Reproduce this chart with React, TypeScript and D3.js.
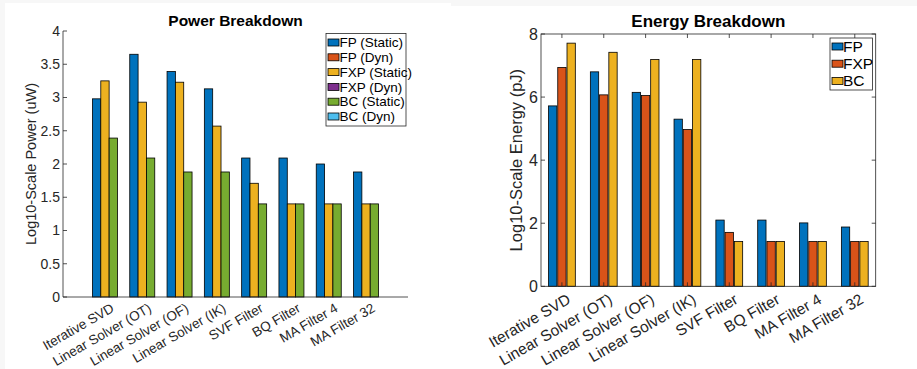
import * as d3 from 'd3'

const FONT = '"Liberation Sans", Arial, Helvetica, sans-serif'
const AXIS = '#262626'

const categories = [
  'Iterative SVD',
  'Linear Solver (OT)',
  'Linear Solver (OF)',
  'Linear Solver (IK)',
  'SVF Filter',
  'BQ Filter',
  'MA Filter 4',
  'MA Filter 32',
]

// Power (log10 uW), static + dynamic stacked per format
const powerFPStatic = [2.98, 3.65, 3.39, 3.13, 2.09, 2.09, 2.0, 1.88]
const powerFPDyn = [0, 0, 0, 0, 0, 0, 0, 0]
const powerFXPStatic = [3.25, 2.93, 3.23, 2.57, 1.71, 1.4, 1.4, 1.4]
const powerFXPDyn = [0, 0, 0, 0, 0, 0, 0, 0]
const powerBCStatic = [2.39, 2.09, 1.88, 1.88, 1.4, 1.4, 1.4, 1.4]
const powerBCDyn = [0, 0, 0, 0, 0, 0, 0, 0]
const powerTicks = [0, 0.5, 1, 1.5, 2, 2.5, 3, 3.5, 4]
const powerLegend = ['FP (Static)', 'FP (Dyn)', 'FXP (Static)', 'FXP (Dyn)', 'BC (Static)', 'BC (Dyn)']

// Energy (log10 pJ)
const energyFP = [5.72, 6.8, 6.15, 5.3, 2.1, 2.1, 2.01, 1.88]
const energyFXP = [6.94, 6.07, 6.05, 4.97, 1.71, 1.42, 1.42, 1.42]
const energyBC = [7.71, 7.42, 7.19, 7.19, 1.42, 1.42, 1.42, 1.42]
const energyTicks = [0, 2, 4, 6, 8]
const energyLegend = ['FP', 'FXP', 'BC']

const COLORS = ['#0072BD', '#D95319', '#EDB120', '#7E2F8E', '#77AC30', '#4DBEEE']

function PowerChart() {
  const left = 63, right = 408, top = 31, bottom = 297
  const x = d3.scalePoint<string>().domain(categories).range([left, right]).padding(1.125)
  const y = d3.scaleLinear().domain([0, 4]).range([bottom, top])
  const inner = d3.scaleBand<number>().domain([0, 1, 2]).range([-12.5, 12.5]).padding(0)
  const stacks = [
    [powerFPStatic, powerFPDyn],
    [powerFXPStatic, powerFXPDyn],
    [powerBCStatic, powerBCDyn],
  ]

  return (
    <g fontFamily={FONT}>
      <text x={(left + right) / 2 + 0} y={26} textAnchor="middle" fontWeight="bold" fontSize={15.5} fill="#000">
        Power Breakdown
      </text>

      {categories.map((c, i) => (
        <g key={c}>
          {stacks.map(([stat, dyn], s) => {
            const bx = (x(c) as number) + (inner(s) as number)
            const w = inner.bandwidth()
            const top1 = y(stat[i])
            const top2 = y(stat[i] + dyn[i])
            return (
              <g key={s}>
                <rect x={bx} y={top1} width={w} height={bottom - top1}
                  fill={COLORS[s * 2]} stroke="#000" strokeWidth={0.8} />
                <rect x={bx} y={top2} width={w} height={top1 - top2}
                  fill={COLORS[s * 2 + 1]} stroke="#000" strokeWidth={0.8} />
              </g>
            )
          })}
        </g>
      ))}

      {/* axes */}
      <line x1={left} x2={left} y1={top} y2={bottom} stroke={AXIS} strokeWidth={0.8} />
      <line x1={left} x2={right} y1={bottom} y2={bottom} stroke={AXIS} strokeWidth={0.8} />
      {powerTicks.map(t => (
        <g key={t}>
          <line x1={left} x2={left + 4} y1={y(t)} y2={y(t)} stroke={AXIS} strokeWidth={0.8} />
          <text x={left - 3} y={y(t)} dy="0.35em" textAnchor="end" fontSize={14} fill={AXIS}>{t}</text>
        </g>
      ))}
      {categories.map(c => (
        <text key={c} transform={`translate(${(x(c) as number) + 5},${bottom + 5}) rotate(-30)`}
          textAnchor="end" dy="0.75em" fontSize={13.5} fill={AXIS}>{c}</text>
      ))}
      <text transform={`translate(36,${(top + bottom) / 2}) rotate(-90)`} textAnchor="middle"
        fontSize={14.5} fill={AXIS}>Log10-Scale Power (uW)</text>

      {/* legend */}
      <rect x={326} y={33.5} width={80} height={92.5} fill="#fff" stroke={AXIS} strokeWidth={0.8} />
      {powerLegend.map((l, k) => (
        <g key={l}>
          <rect x={328} y={39 + k * 14.8} width={11} height={7} fill={COLORS[k]} stroke="#000" strokeWidth={0.8} />
          <text x={339.5} y={42.5 + k * 14.8} dy="0.35em" fontSize={13.5} fill="#000">{l}</text>
        </g>
      ))}
    </g>
  )
}

function EnergyChart() {
  const left = 541, right = 875.7, top = 34, bottom = 286.3
  const x = d3.scalePoint<string>().domain(categories).range([left, right]).padding(0.5)
  const y = d3.scaleLinear().domain([0, 8]).range([bottom, top])
  const inner = d3.scaleBand<number>().domain([0, 1, 2]).range([-13.4, 13.4]).paddingInner(0.1)
  const series = [energyFP, energyFXP, energyBC]

  return (
    <g fontFamily={FONT}>
      <text x={(left + right) / 2} y={27} textAnchor="middle" fontWeight="bold" fontSize={17} fill="#000">
        Energy Breakdown
      </text>

      {categories.map((c, i) => (
        <g key={c}>
          {series.map((vals, s) => (
            <rect key={s} x={(x(c) as number) + (inner(s) as number)} y={y(vals[i])}
              width={inner.bandwidth()} height={bottom - y(vals[i])}
              fill={COLORS[s]} stroke="#000" strokeWidth={0.8} />
          ))}
        </g>
      ))}

      {/* box + ticks */}
      <rect x={left} y={top} width={right - left} height={bottom - top} fill="none" stroke={AXIS} strokeWidth={0.8} />
      {energyTicks.map(t => (
        <g key={t}>
          <line x1={left} x2={left + 4} y1={y(t)} y2={y(t)} stroke={AXIS} strokeWidth={0.8} />
          <line x1={right} x2={right - 4} y1={y(t)} y2={y(t)} stroke={AXIS} strokeWidth={0.8} />
          <text x={left - 3} y={y(t)} dy="0.35em" textAnchor="end" fontSize={16} fill={AXIS}>{t}</text>
        </g>
      ))}
      {categories.map(c => (
        <g key={c}>
          <line x1={x(c)} x2={x(c)} y1={top} y2={top + 4} stroke={AXIS} strokeWidth={0.8} />
          <line x1={x(c)} x2={x(c)} y1={bottom} y2={bottom - 4} stroke={AXIS} strokeWidth={0.8} />
          <text transform={`translate(${(x(c) as number) + 4},${bottom + 6}) rotate(-30)`}
            textAnchor="end" dy="0.75em" fontSize={15.5} fill={AXIS}>{c}</text>
        </g>
      ))}
      <text transform={`translate(522,${(top + bottom) / 2}) rotate(-90)`} textAnchor="middle"
        fontSize={16.5} fill={AXIS}>Log10-Scale Energy (pJ)</text>

      {/* legend */}
      <rect x={830} y={38} width={42.5} height={52} fill="#fff" stroke={AXIS} strokeWidth={0.8} />
      {energyLegend.map((l, k) => (
        <g key={l}>
          <rect x={832} y={43 + k * 17.2} width={11} height={7} fill={COLORS[k]} stroke="#000" strokeWidth={0.8} />
          <text x={843} y={46.5 + k * 17.2} dy="0.35em" fontSize={15.5} fill="#000">{l}</text>
        </g>
      ))}
    </g>
  )
}

export default function App() {
  return (
    <svg width={917} height={369} style={{ position: 'absolute', left: 0, top: 0, background: '#fff' }}>
      <rect x={0} y={0} width={917} height={369} fill="#fff" />
      <rect x={0} y={0} width={451} height={3} fill="#f7f7f7" />
      <rect x={451} y={0} width={466} height={6} fill="#f7f7f7" />
      <rect x={0} y={0} width={5} height={369} fill="#f7f7f7" />
      <PowerChart />
      <EnergyChart />
    </svg>
  )
}
